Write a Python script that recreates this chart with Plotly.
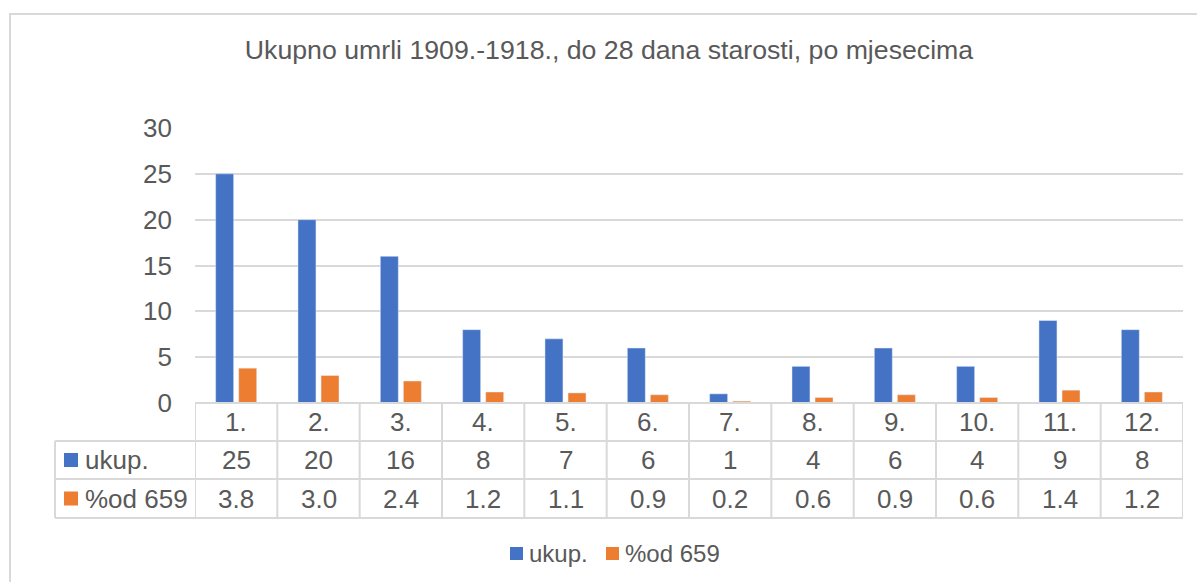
import plotly.graph_objects as go

categories = ["1.", "2.", "3.", "4.", "5.", "6.", "7.", "8.", "9.", "10.", "11.", "12."]
ukup = [25, 20, 16, 8, 7, 6, 1, 4, 6, 4, 9, 8]
pct = [3.8, 3.0, 2.4, 1.2, 1.1, 0.9, 0.2, 0.6, 0.9, 0.6, 1.4, 1.2]
series_names = ["ukup.", "%od 659"]
title_text = "Ukupno umrli 1909.-1918., do 28 dana starosti, po mjesecima"

BLUE = "#4472C4"
ORANGE = "#ED7D31"
GRID = "#D9D9D9"
TXT = "#595959"
FONT = "Liberation Sans, Arial, sans-serif"

W, H = 1197, 582
L, R, T, B = 195, 1183, 128, 403  # plot area in pixels


def py(p):  # pixel y -> paper y
    return (B - p) / (B - T)


def px(q):  # pixel x -> paper x
    return (q - L) / (R - L)


fig = go.Figure()
fig.add_bar(x=categories, y=ukup, name=series_names[0], marker_color=BLUE)
fig.add_bar(x=categories, y=pct, name=series_names[1], marker_color=ORANGE)

shapes = []
annotations = []
row_y = [403, 441, 479, 518]
left_x = 55
n = len(categories)
FS = 26

# horizontal table lines
shapes.append(dict(type="line", xref="x", yref="paper", x0=-0.5, x1=n - 0.5,
                   y0=py(row_y[0]), y1=py(row_y[0]), line=dict(color=GRID, width=2)))
for yy in row_y[1:]:
    shapes.append(dict(type="line", xref="paper", yref="paper", x0=px(left_x), x1=1,
                       y0=py(yy), y1=py(yy), line=dict(color=GRID, width=2)))
# vertical table lines
for i in range(n + 1):
    shapes.append(dict(type="line", xref="x", yref="paper", x0=i - 0.5, x1=i - 0.5,
                       y0=py(row_y[0]), y1=py(row_y[3]), line=dict(color=GRID, width=2)))
shapes.append(dict(type="line", xref="paper", yref="paper", x0=px(left_x), x1=px(left_x),
                   y0=py(row_y[1]), y1=py(row_y[3]), line=dict(color=GRID, width=2)))

# outer chart border
shapes.append(dict(type="rect", xref="paper", yref="paper", x0=px(10), x1=px(1205),
                   y0=py(14), y1=py(600), line=dict(color=GRID, width=2)))

# row label swatches in the data table
for k, col in enumerate([BLUE, ORANGE]):
    yc = (row_y[k + 1] + row_y[k + 2]) / 2
    shapes.append(dict(type="rect", xref="paper", yref="paper", x0=px(64), x1=px(78),
                       y0=py(yc - 7), y1=py(yc + 7), fillcolor=col, line=dict(width=0)))
    annotations.append(dict(x=px(83), y=py(yc), xref="paper", yref="paper",
                            text=series_names[k], showarrow=False, xanchor="left",
                            yanchor="middle", font=dict(size=FS, color=TXT, family=FONT)))

# cell texts
for i, c in enumerate(categories):
    rows = [c, str(ukup[i]), f"{pct[i]:.1f}"]
    for r, txt in enumerate(rows):
        annotations.append(dict(x=i, y=py((row_y[r] + row_y[r + 1]) / 2), xref="x", yref="paper",
                                text=txt, showarrow=False, yanchor="middle",
                                font=dict(size=FS, color=TXT, family=FONT)))

# bottom legend (drawn manually to match spacing)
leg = [(510, 523, 527), (606, 619, 623)]
for k, (a, b, t) in enumerate(leg):
    col = [BLUE, ORANGE][k]
    shapes.append(dict(type="rect", xref="paper", yref="paper", x0=px(a), x1=px(b),
                       y0=py(547), y1=py(560), fillcolor=col, line=dict(width=0)))
    annotations.append(dict(x=px(t), y=py(553), xref="paper", yref="paper",
                            text=series_names[k], showarrow=False, xanchor="left",
                            yanchor="middle", font=dict(size=24, color=TXT, family=FONT)))

fig.update_layout(
    width=W, height=H,
    margin=dict(l=L, r=W - R, t=T, b=H - B, pad=0),
    paper_bgcolor="white", plot_bgcolor="white",
    font=dict(family=FONT, color=TXT, size=FS),
    title=dict(text=title_text, x=609 / W, xanchor="center", y=1 - 50 / H, yanchor="middle",
               yref="container", xref="container",
               font=dict(size=26.7, color=TXT, family=FONT)),
    barmode="group", bargap=0.44, bargroupgap=0.22,
    showlegend=False,
    shapes=shapes, annotations=annotations,
    xaxis=dict(type="category", range=[-0.5, n - 0.5], showticklabels=False,
               showgrid=False, zeroline=False, showline=False, ticks=""),
    yaxis=dict(range=[0, 30], dtick=5, showgrid=True, gridcolor=GRID, gridwidth=2,
               zeroline=False, showline=False, ticks="", ticklabelstandoff=22,
               tickfont=dict(size=FS, color=TXT, family=FONT), fixedrange=True),
)

fig.write_html("out.html", config={"displayModeBar": False},
               post_script="document.body.style.margin='0';")
